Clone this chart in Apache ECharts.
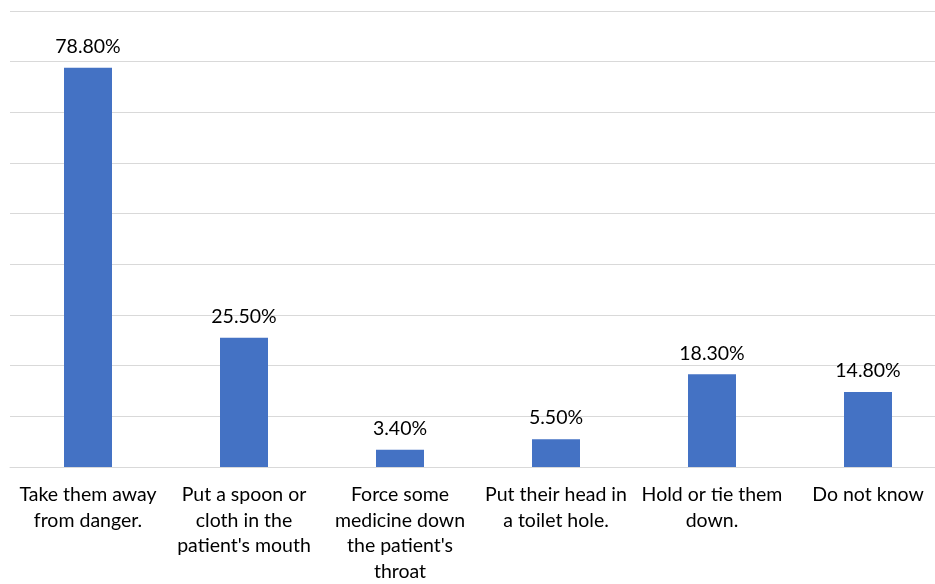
<!DOCTYPE html>
<html>
<head>
<meta charset="utf-8">
<script src="https://cdn.jsdelivr.net/npm/echarts@6/dist/echarts.min.js"></script>
<style>
  html, body { margin: 0; padding: 0; background: #fff; }
  #chart { width: 935px; height: 584px; }
</style>
</head>
<body>
<div id="chart"></div>
<script>
var categories = [
    'Take them away\nfrom danger.',
    'Put a spoon or\ncloth in the\npatient\'s mouth',
    'Force some\nmedicine down\nthe patient\'s\nthroat',
    'Put their head in\na toilet hole.',
    'Hold or tie them\ndown.',
    'Do not know'
];
var percentages = [78.8, 25.5, 3.4, 5.5, 18.3, 14.8];

var myChart = echarts.init(document.getElementById('chart'));

var option = {
    animation: false,
    grid: {
        left: 10,
        top: 11,
        width: 936,
        height: 456,
        outerBoundsMode: 'none',
        containLabel: false
    },
    xAxis: {
        type: 'category',
        data: categories,
        axisLine: { lineStyle: { color: '#d9d9d9', width: 1 } },
        axisTick: { show: false },
        axisLabel: {
            interval: 0,
            margin: 15,
            color: '#000',
            fontFamily: 'Lato',
            fontSize: 19.5,
            lineHeight: 25.5
        }
    },
    yAxis: {
        type: 'value',
        min: 0,
        max: 90,
        interval: 10,
        axisLabel: { show: false },
        axisLine: { show: false },
        axisTick: { show: false },
        splitLine: { lineStyle: { color: '#d9d9d9', width: 1 } }
    },
    series: [{
        type: 'bar',
        data: percentages,
        barWidth: 48,
        itemStyle: { color: '#4472C4' },
        label: {
            show: true,
            position: 'top',
            distance: 11,
            color: '#000',
            fontFamily: 'Lato',
            fontSize: 19.5,
            formatter: function (p) { return p.value.toFixed(2) + '%'; }
        }
    }]
};

myChart.setOption(option, true);
</script>
</body>
</html>
